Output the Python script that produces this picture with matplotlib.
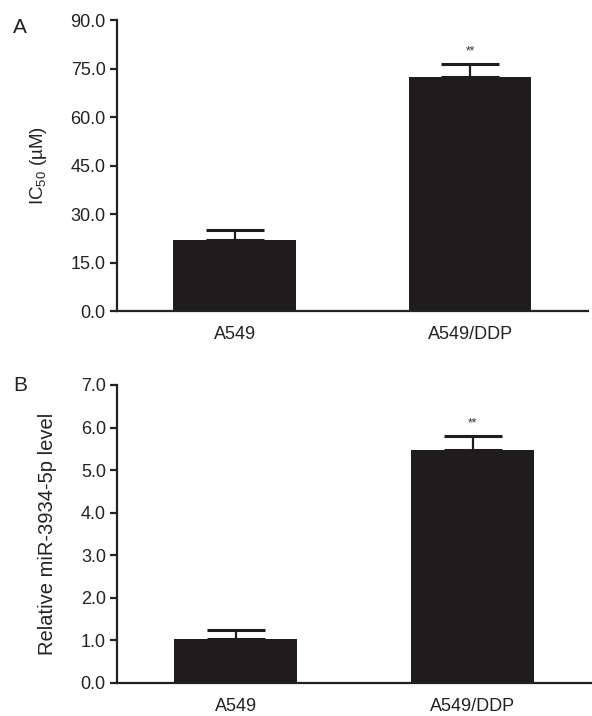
import matplotlib
matplotlib.use('Agg')
import matplotlib.pyplot as plt
import numpy as np

plt.rcParams['font.family'] = ['Liberation Sans', 'DejaVu Sans']
plt.rcParams['mathtext.fontset'] = 'custom'
plt.rcParams['mathtext.rm'] = 'Liberation Sans'

groups = ['A549', 'A549/DDP']
ic50 = [22.0, 72.3]
ic50_err = [3.0, 4.0]
mir = [1.02, 5.47]
mir_err = [0.23, 0.33]
bar_color = '#1e1c1d'

fig = plt.figure(figsize=(5.92, 7.16), dpi=100)
axA = fig.add_axes([0.1976, 0.5656, 0.7954, 0.4064])
axB = fig.add_axes([0.1976, 0.0465, 0.8014, 0.4158])


def draw_panel(ax, vals, errs, ymax, step, ylabel, star_off, lsize):
    x = np.arange(len(groups))
    ax.bar(x, vals, width=0.52, color=bar_color, zorder=2)
    ax.errorbar(x, vals, yerr=[np.zeros(len(vals)), errs], fmt='none',
                ecolor=bar_color, elinewidth=1.6, capsize=21, capthick=2.2, zorder=1)
    ax.text(x[1], vals[1] + errs[1] + star_off, '**', ha='center', va='bottom',
            fontsize=8.5, color='#333333')
    ax.set_xlim(-0.5, 1.5)
    ax.set_ylim(0, ymax)
    ticks = np.arange(0, ymax + step / 2, step)
    ax.set_yticks(ticks)
    ax.set_yticklabels(['%.1f' % v for v in ticks])
    ax.set_xticks(x)
    ax.set_xticklabels(groups)
    ax.spines['top'].set_visible(False)
    ax.spines['right'].set_visible(False)
    for s in ['left', 'bottom']:
        ax.spines[s].set_linewidth(1.6)
        ax.spines[s].set_color('#222222')
    ax.tick_params(axis='y', direction='out', length=5, width=1.6, labelsize=13, pad=3,
                   colors='#222222')
    ax.tick_params(axis='x', length=0, labelsize=13, pad=11, colors='#222222')
    ax.set_ylabel(ylabel, fontsize=lsize, color='#222222')


draw_panel(axA, ic50, ic50_err, 90.0, 15.0, 'IC$_{\\mathregular{50}}$ (\u00b5M)', 2.0, 13.5)
draw_panel(axB, mir, mir_err, 7.0, 1.0, 'Relative miR-3934-5p level', 0.15, 14.5)
axA.yaxis.set_label_coords(-0.145, 0.5)
axB.yaxis.set_label_coords(-0.127, 0.5)

fig.text(0.022, 0.962, 'A', fontsize=15, ha='left', va='center', color='#222222')
fig.text(0.022, 0.462, 'B', fontsize=15, ha='left', va='center', color='#222222')

plt.savefig('out.png', dpi=100)
